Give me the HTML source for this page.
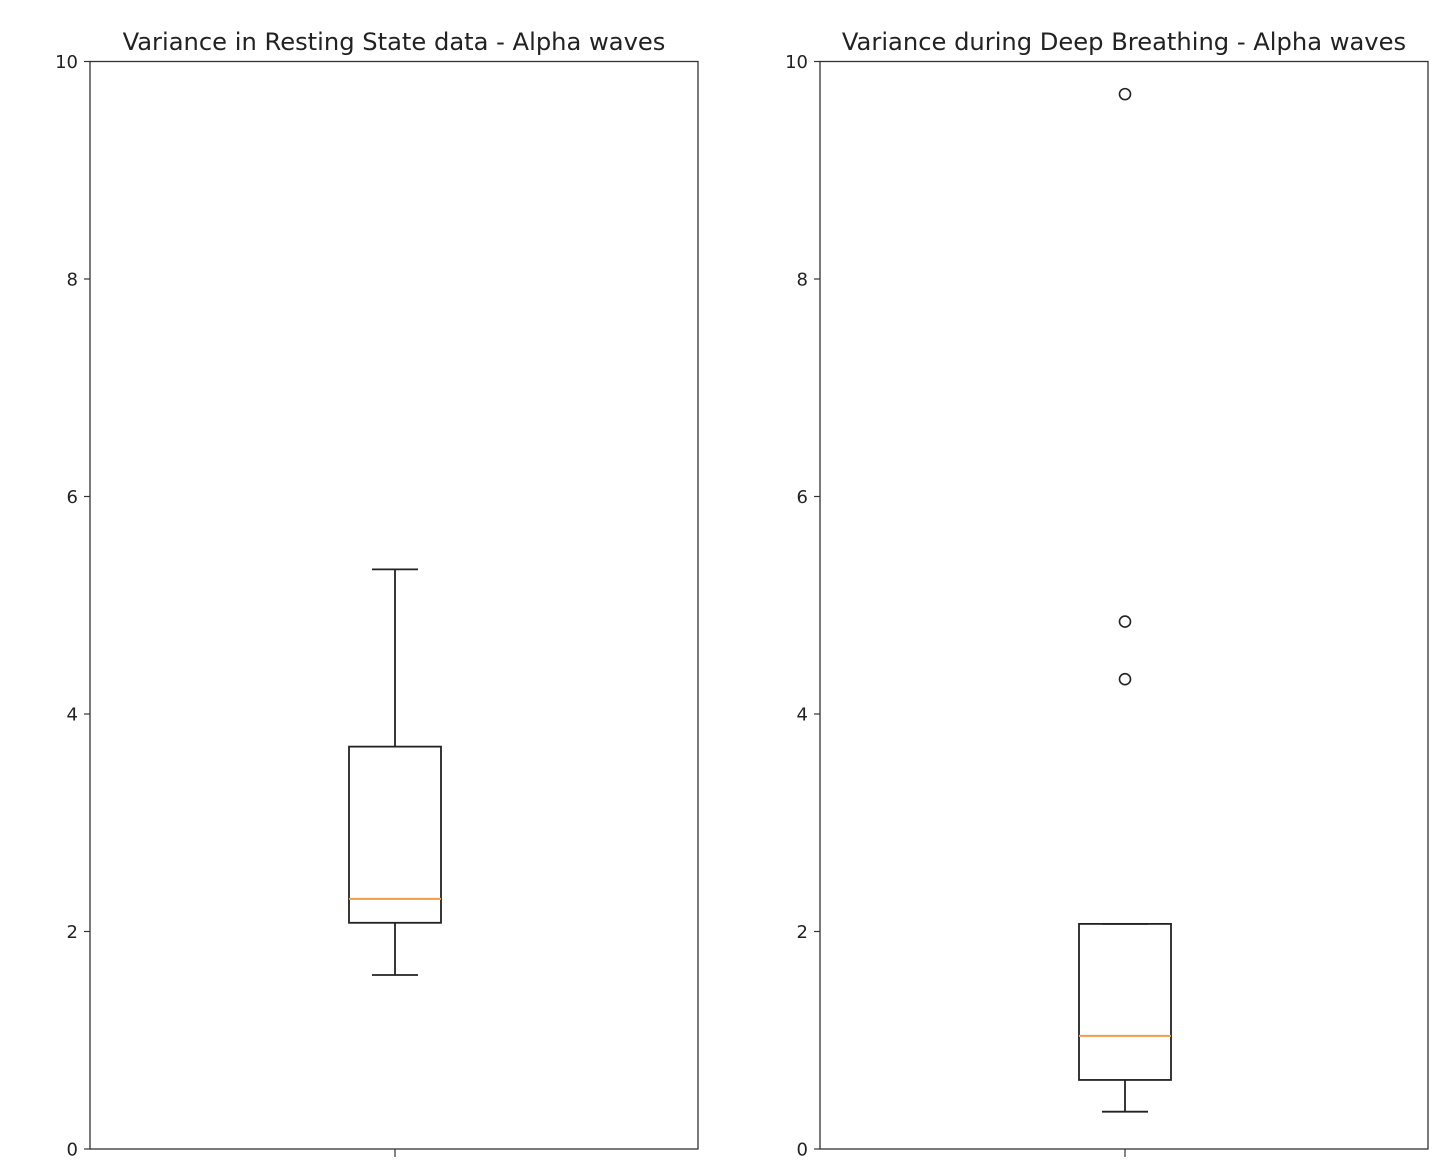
<!DOCTYPE html>
<html><head><meta charset="utf-8"><style>
html,body{margin:0;padding:0;background:#fff;}
svg{display:block;font-family:"DejaVu Sans","Liberation Sans",sans-serif;}
</style></head><body>
<svg id="chart" width="1448" height="1166"></svg>
<script>
const yTicks = [0, 2, 4, 6, 8, 10];
const panelTitles = ["Variance in Resting State data - Alpha waves", "Variance during Deep Breathing - Alpha waves"];
const whiskerLow = [1.6, 0.343];
const q1 = [2.08, 0.635];
const medians = [2.3, 1.04];
const q3 = [3.7, 2.07];
const whiskerHigh = [5.33, 2.07];
const outliers = [[], [9.7, 4.85, 4.32]];

const NS = "http://www.w3.org/2000/svg";
const svgEl = document.getElementById("chart");
const panelX = [90, 820], panelW = 608, axTop = 61.5, axBottom = 1149;
function yScale(v){ return axBottom - (v/10)*(axBottom-axTop); }
function mk(tag, attrs, parent){ const e=document.createElementNS(NS,tag); for(const k in attrs) e.setAttribute(k,attrs[k]); (parent||svgEl).appendChild(e); return e; }

for (let p=0;p<2;p++){
  const x0 = panelX[p];
  const g = mk("g",{});
  
  
  const t = mk("text",{x:x0+panelW/2,y:50,"text-anchor":"middle","font-size":"24.2",fill:"#222"},g);
  t.textContent = panelTitles[p];
  
  
  for (const tv of yTicks){
    const y = yScale(tv);
    mk("line",{x1:x0-6,x2:x0,y1:y,y2:y,stroke:"#333","stroke-width":1.2},g);
    const lb = mk("text",{x:x0-12,y:y+6.5,"text-anchor":"end","font-size":"18",fill:"#222"},g);
    lb.textContent = tv;
    
    
  }
  const cx = x0 + panelW/2 + 1;
  mk("line",{x1:cx,x2:cx,y1:axBottom,y2:axBottom+8,stroke:"#333","stroke-width":1.2},g);
  const fr = mk("rect",{x:x0,y:axTop,width:panelW,height:axBottom-axTop,fill:"none",stroke:"#333","stroke-width":1.3},g);
  
  
  const bw = 92, cw = 46, st = {stroke:"#222","stroke-width":1.8,fill:"none"};
  const bx = mk("g",{},g);
  
  
  mk("line",Object.assign({x1:cx,x2:cx,y1:yScale(whiskerLow[p]),y2:yScale(q1[p])},st),bx);
  mk("line",Object.assign({x1:cx,x2:cx,y1:yScale(q3[p]),y2:yScale(whiskerHigh[p])},st),bx);
  mk("line",Object.assign({x1:cx-cw/2,x2:cx+cw/2,y1:yScale(whiskerLow[p]),y2:yScale(whiskerLow[p])},st),bx);
  mk("line",Object.assign({x1:cx-cw/2,x2:cx+cw/2,y1:yScale(whiskerHigh[p]),y2:yScale(whiskerHigh[p])},st),bx);
  mk("rect",Object.assign({x:cx-bw/2,y:yScale(q3[p]),width:bw,height:yScale(q1[p])-yScale(q3[p])},st),bx);
  mk("line",{x1:cx-bw/2,x2:cx+bw/2,y1:yScale(medians[p]),y2:yScale(medians[p]),stroke:"#f39c4a","stroke-width":2},bx);
  for (const o of outliers[p]){
    const c = mk("circle",{cx:cx,cy:yScale(o),r:5.5,fill:"none",stroke:"#222","stroke-width":1.6},bx);
    
    
  }
}
</script>
</body></html>
